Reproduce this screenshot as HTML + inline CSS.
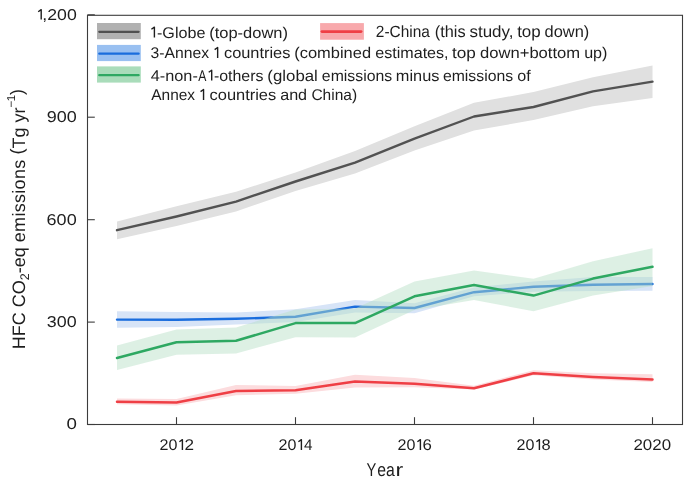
<!DOCTYPE html>
<html><head><meta charset="utf-8"><style>
html,body{margin:0;padding:0;background:#fff;}
body{width:685px;height:484px;overflow:hidden;}
svg{display:block;font-family:"Liberation Sans", sans-serif;text-rendering:geometricPrecision;}
.t{opacity:0.999;will-change:transform;}
text{fill:#1e1e1e;}
</style></head><body>
<svg width="685" height="484" viewBox="0 0 685 484">
<rect width="685" height="484" fill="#fff"/>
<polygon points="117.0,221.4 176.5,206.3 236.0,191.7 295.5,172.5 355.0,151.0 414.5,126.3 474.0,102.8 533.5,92.0 593.0,77.3 652.5,65.5 652.5,98.1 593.0,106.3 533.5,120.0 474.0,130.5 414.5,150.4 355.0,173.6 295.5,191.0 236.0,211.4 176.5,226.0 117.0,239.3" fill="#e0e0e0"/>
<polyline points="117.0,230.2 176.5,216.5 236.0,201.6 295.5,181.5 355.0,162.6 414.5,138.7 474.0,116.5 533.5,107.0 593.0,91.4 652.5,81.6" fill="none" stroke="#525252" stroke-width="2.4" stroke-linejoin="round" stroke-linecap="round"/>
<polygon points="117.0,398.4 176.5,399.0 236.0,384.9 295.5,386.0 355.0,374.8 414.5,377.9 474.0,385.7 533.5,370.2 593.0,373.3 652.5,374.3 652.5,382.1 593.0,379.4 533.5,375.3 474.0,389.5 414.5,387.3 355.0,387.6 295.5,393.7 236.0,395.2 176.5,405.5 117.0,404.2" fill="#fcdcde"/>
<polyline points="117.0,401.8 176.5,402.6 236.0,390.9 295.5,390.2 355.0,381.6 414.5,383.8 474.0,388.2 533.5,373.2 593.0,377.0 652.5,379.5" fill="none" stroke="#ef3f45" stroke-width="2.5" stroke-linejoin="round" stroke-linecap="round"/>
<polygon points="117.0,311.3 176.5,312.0 236.0,312.5 295.5,309.2 355.0,300.1 414.5,303.2 474.0,287.5 533.5,281.5 593.0,277.0 652.5,277.0 652.5,290.8 593.0,290.9 533.5,291.7 474.0,296.3 414.5,313.3 355.0,312.5 295.5,322.0 236.0,324.5 176.5,327.1 117.0,327.7" fill="#d7e4f7"/>
<polyline points="117.0,319.6 176.5,319.7 236.0,318.8 295.5,316.8 355.0,306.6 414.5,308.0 474.0,292.2 533.5,286.8 593.0,284.7 652.5,284.0" fill="none" stroke="#1a6ddd" stroke-width="2.4" stroke-linejoin="round" stroke-linecap="round"/>
<polygon points="117.0,345.5 176.5,329.6 236.0,327.4 295.5,309.5 355.0,308.5 414.5,281.4 474.0,270.5 533.5,278.7 593.0,261.3 652.5,248.2 652.5,286.0 593.0,295.5 533.5,311.2 474.0,300.0 414.5,310.0 355.0,337.5 295.5,337.2 236.0,353.4 176.5,354.7 117.0,370.1" fill="rgba(182,223,197,0.47)"/>
<polyline points="117.0,358.0 176.5,342.2 236.0,340.8 295.5,323.1 355.0,323.1 414.5,296.3 474.0,285.0 533.5,295.6 593.0,278.6 652.5,266.8" fill="none" stroke="#2ea862" stroke-width="2.5" stroke-linejoin="round" stroke-linecap="round"/>
<rect x="87.5" y="15.3" width="595.0" height="409.2" fill="none" stroke="#3c3c3c" stroke-width="1.1"/>
<line x1="87.5" y1="424.5" x2="94.8" y2="424.5" stroke="#3c3c3c" stroke-width="1.1"/>
<line x1="87.5" y1="322.1" x2="94.8" y2="322.1" stroke="#3c3c3c" stroke-width="1.1"/>
<line x1="87.5" y1="219.7" x2="94.8" y2="219.7" stroke="#3c3c3c" stroke-width="1.1"/>
<line x1="87.5" y1="117.2" x2="94.8" y2="117.2" stroke="#3c3c3c" stroke-width="1.1"/>
<line x1="87.5" y1="14.8" x2="94.8" y2="14.8" stroke="#3c3c3c" stroke-width="1.1"/>
<line x1="176.5" y1="424.5" x2="176.5" y2="417.2" stroke="#3c3c3c" stroke-width="1.1"/>
<line x1="295.5" y1="424.5" x2="295.5" y2="417.2" stroke="#3c3c3c" stroke-width="1.1"/>
<line x1="414.5" y1="424.5" x2="414.5" y2="417.2" stroke="#3c3c3c" stroke-width="1.1"/>
<line x1="533.5" y1="424.5" x2="533.5" y2="417.2" stroke="#3c3c3c" stroke-width="1.1"/>
<line x1="652.5" y1="424.5" x2="652.5" y2="417.2" stroke="#3c3c3c" stroke-width="1.1"/>
<g class="t">
<rect x="97.0" y="23.0" width="43.8" height="16.2" fill="#b1b1b1"/>
<line x1="99.3" y1="31.8" x2="138.6" y2="31.8" stroke="#505050" stroke-width="2.3" stroke-linecap="round"/>
<rect x="97.0" y="44.9" width="43.8" height="16.2" fill="#99c0f1"/>
<line x1="99.3" y1="53.7" x2="138.6" y2="53.7" stroke="#1a6ddd" stroke-width="2.3" stroke-linecap="round"/>
<rect x="97.0" y="66.4" width="43.8" height="16.2" fill="#a9dcba"/>
<line x1="99.3" y1="75.2" x2="138.6" y2="75.2" stroke="#2ea862" stroke-width="2.3" stroke-linecap="round"/>
<rect x="320.1" y="23.1" width="43.8" height="16.6" fill="#f8a9ac"/>
<line x1="321.9" y1="31.6" x2="361.1" y2="31.6" stroke="#ef3f45" stroke-width="2.8" stroke-linecap="round"/>
<path d="M154.40 37.50V27.10L151.40 29.20" fill="none" stroke="#1e1e1e" stroke-width="1.4" stroke-linejoin="round"/>
<text x="156.97" y="37.6" font-size="15.5" textLength="48.40" lengthAdjust="spacingAndGlyphs">-Globe</text>
<text x="209.21" y="37.6" font-size="15.5" textLength="78.76" lengthAdjust="spacingAndGlyphs">(top-down)</text>
<text x="375.83" y="36.6" font-size="16.3" textLength="54.11" lengthAdjust="spacingAndGlyphs">2-China</text>
<text x="434.82" y="36.6" font-size="16.3" textLength="30.73" lengthAdjust="spacingAndGlyphs">(this</text>
<text x="469.48" y="36.6" font-size="16.3" textLength="44.03" lengthAdjust="spacingAndGlyphs">study,</text>
<text x="517.15" y="36.6" font-size="16.3" textLength="23.53" lengthAdjust="spacingAndGlyphs">top</text>
<text x="544.64" y="36.6" font-size="16.3" textLength="44.70" lengthAdjust="spacingAndGlyphs">down)</text>
<text x="150.55" y="58.0" font-size="15.5" textLength="58.50" lengthAdjust="spacingAndGlyphs">3-Annex</text>
<path d="M217.65 57.90V47.50L214.65 49.60" fill="none" stroke="#1e1e1e" stroke-width="1.4" stroke-linejoin="round"/>
<text x="223.94" y="58.0" font-size="15.5" textLength="66.49" lengthAdjust="spacingAndGlyphs">countries</text>
<text x="294.21" y="58.0" font-size="15.5" textLength="76.86" lengthAdjust="spacingAndGlyphs">(combined</text>
<text x="375.26" y="58.0" font-size="15.5" textLength="73.35" lengthAdjust="spacingAndGlyphs">estimates,</text>
<text x="452.04" y="58.0" font-size="15.5" textLength="23.85" lengthAdjust="spacingAndGlyphs">top</text>
<text x="480.04" y="58.0" font-size="15.5" textLength="100.09" lengthAdjust="spacingAndGlyphs">down+bottom</text>
<text x="584.15" y="58.0" font-size="15.5" textLength="23.30" lengthAdjust="spacingAndGlyphs">up)</text>
<text x="150.77" y="80.7" font-size="15.5" textLength="47.09" lengthAdjust="spacingAndGlyphs">4-non-</text>
<text x="198.20" y="80.7" font-size="15.5" textLength="8.12" lengthAdjust="spacingAndGlyphs">A</text>
<path d="M211.70 80.60V70.20L208.70 72.30" fill="none" stroke="#1e1e1e" stroke-width="1.4" stroke-linejoin="round"/>
<text x="213.98" y="80.7" font-size="15.5" textLength="49.51" lengthAdjust="spacingAndGlyphs">-others</text>
<text x="267.39" y="80.7" font-size="15.5" textLength="50.44" lengthAdjust="spacingAndGlyphs">(global</text>
<text x="321.87" y="80.7" font-size="15.5" textLength="70.30" lengthAdjust="spacingAndGlyphs">emissions</text>
<text x="395.84" y="80.7" font-size="15.5" textLength="43.59" lengthAdjust="spacingAndGlyphs">minus</text>
<text x="442.97" y="80.7" font-size="15.5" textLength="70.10" lengthAdjust="spacingAndGlyphs">emissions</text>
<text x="517.36" y="80.7" font-size="15.5" textLength="13.43" lengthAdjust="spacingAndGlyphs">of</text>
<text x="151.30" y="100.0" font-size="15.5" textLength="43.76" lengthAdjust="spacingAndGlyphs">Annex</text>
<path d="M203.55 99.90V89.50L200.55 91.60" fill="none" stroke="#1e1e1e" stroke-width="1.4" stroke-linejoin="round"/>
<text x="209.54" y="100.0" font-size="15.5" textLength="66.70" lengthAdjust="spacingAndGlyphs">countries</text>
<text x="280.15" y="100.0" font-size="15.5" textLength="26.97" lengthAdjust="spacingAndGlyphs">and</text>
<text x="311.42" y="100.0" font-size="15.5" textLength="45.72" lengthAdjust="spacingAndGlyphs">China)</text>
<text x="66.45" y="429.4" font-size="15.6" textLength="10.43" lengthAdjust="spacingAndGlyphs">0</text>
<text x="46.87" y="326.97" font-size="15.6" textLength="29.81" lengthAdjust="spacingAndGlyphs">300</text>
<text x="46.60" y="224.55" font-size="15.6" textLength="30.10" lengthAdjust="spacingAndGlyphs">600</text>
<text x="46.69" y="122.13" font-size="15.6" textLength="30.00" lengthAdjust="spacingAndGlyphs">900</text>
<path d="M41.20 19.60V9.60L38.20 11.70" fill="none" stroke="#1e1e1e" stroke-width="1.4" stroke-linejoin="round"/>
<text x="42.31" y="19.7" font-size="15.6" textLength="34.44" lengthAdjust="spacingAndGlyphs">,200</text>
<text x="159.60" y="450.1" font-size="15.4" textLength="17.91" lengthAdjust="spacingAndGlyphs">20</text>
<path d="M182.40 450.00V439.60L179.40 441.70" fill="none" stroke="#1e1e1e" stroke-width="1.4" stroke-linejoin="round"/>
<text x="184.44" y="450.1" font-size="15.4" textLength="9.53" lengthAdjust="spacingAndGlyphs">2</text>
<text x="278.60" y="450.1" font-size="15.4" textLength="17.91" lengthAdjust="spacingAndGlyphs">20</text>
<path d="M301.40 450.00V439.60L298.40 441.70" fill="none" stroke="#1e1e1e" stroke-width="1.4" stroke-linejoin="round"/>
<text x="303.99" y="450.1" font-size="15.4" textLength="8.51" lengthAdjust="spacingAndGlyphs">4</text>
<text x="397.60" y="450.1" font-size="15.4" textLength="17.91" lengthAdjust="spacingAndGlyphs">20</text>
<path d="M420.40 450.00V439.60L417.40 441.70" fill="none" stroke="#1e1e1e" stroke-width="1.4" stroke-linejoin="round"/>
<text x="422.46" y="450.1" font-size="15.4" textLength="9.33" lengthAdjust="spacingAndGlyphs">6</text>
<text x="516.60" y="450.1" font-size="15.4" textLength="17.91" lengthAdjust="spacingAndGlyphs">20</text>
<path d="M539.40 450.00V439.60L536.40 441.70" fill="none" stroke="#1e1e1e" stroke-width="1.4" stroke-linejoin="round"/>
<text x="541.64" y="450.1" font-size="15.4" textLength="9.13" lengthAdjust="spacingAndGlyphs">8</text>
<text x="633.45" y="450.1" font-size="15.4" textLength="37.63" lengthAdjust="spacingAndGlyphs">2020</text>
<text x="366.51" y="475.8" font-size="18.4" textLength="9.82" lengthAdjust="spacingAndGlyphs">Y</text>
<text x="377.17" y="475.8" font-size="18.4" textLength="17.57" lengthAdjust="spacingAndGlyphs">ea</text>
<text x="395.60" y="475.8" font-size="18.4" textLength="7.71" lengthAdjust="spacingAndGlyphs">r</text>
<text transform="translate(25.0,349.2) rotate(-90)" font-size="18.0">HFC CO<tspan font-size="12.5" dy="4">2</tspan><tspan dy="-4">-eq </tspan><tspan letter-spacing="0.3">emissions</tspan><tspan> </tspan><tspan dy="-1.7">(</tspan><tspan dy="1.7">Tg yr</tspan><tspan font-size="11.5" dy="-9.8">−</tspan><tspan font-size="11.5" dx="-0.6">1</tspan><tspan dy="8.1">)</tspan></text>
</g>
</svg>
</body></html>
